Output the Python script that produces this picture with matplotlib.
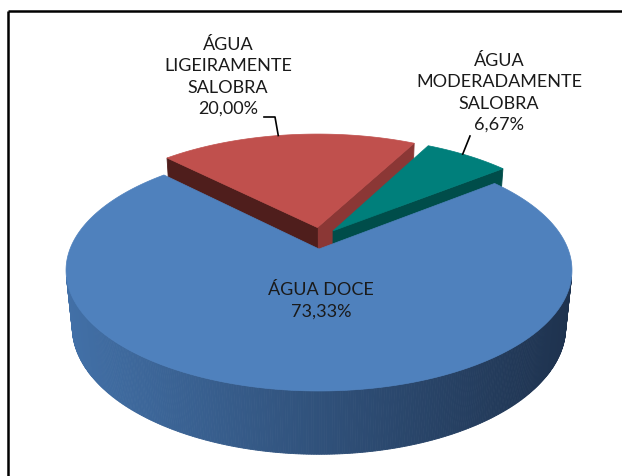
import numpy as np
import matplotlib
matplotlib.use('Agg')
import matplotlib.pyplot as plt
from matplotlib.patches import Polygon

# ---- data ----
categories = ['ÁGUA DOCE', 'ÁGUA\nLIGEIRAMENTE\nSALOBRA', 'ÁGUA\nMODERADAMENTE\nSALOBRA']
values = [73.33, 20.00, 6.67]
pct_labels = ['73,33%', '20,00%', '6,67%']

# ---- style ----
top_colors = ['#4F81BD', '#C0504D', '#007F7B']
dark_side = ['#1E324E', '#4F1E1C', '#004D4A']
mid_side = ['#4270A7', '#8B3735', '#004D4A']
explode = [0.0, 0.19, 0.17]
explode_dir = [0.0, 92.0, 70.0]
start_angle = 38.5  # degrees, slices go clockwise

FONT = ['Lato', 'DejaVu Sans']

fig = plt.figure(figsize=(6.22, 4.77), dpi=100)
ax = fig.add_axes([0, 0, 1, 1])
ax.set_xlim(0, 622)
ax.set_ylim(477, 0)
ax.axis('off')

# ---- perspective projection of a unit-radius pie ----
phi = np.radians(28)
D = 5.0
k = 1245.0
cx, cy = 319.0, 250.0
h = 0.26
cphi, sphi = np.cos(phi), np.sin(phi)
cam = np.array([0.0, -D * cphi, D * sphi])


def proj(x, y, z):
    vx, vy, vz = x, y + D * cphi, z - D * sphi
    depth = vy * cphi - vz * sphi
    sx = vx / depth
    sy = (vy * sphi + vz * cphi) / depth
    return cx + k * sx, cy - k * sy, depth


total = float(sum(values))
walls = []
tops = []
offsets = []
t0 = start_angle
for i, v in enumerate(values):
    t1 = t0 - 360.0 * v / total
    ed = np.radians(explode_dir[i])
    ox, oy = explode[i] * np.cos(ed), explode[i] * np.sin(ed)
    offsets.append((ox, oy))
    th = np.radians(np.linspace(t1, t0, max(int(abs(t0 - t1) * 2), 8)))
    # top face
    pts = [proj(ox, oy, 0)[:2]] + [proj(ox + np.cos(a), oy + np.sin(a), 0)[:2] for a in th]
    tops.append((pts, top_colors[i]))
    # outer curved wall
    for a, b in zip(th[:-1], th[1:]):
        m = (a + b) / 2
        P = np.array([ox + np.cos(m), oy + np.sin(m), -h / 2])
        n = np.array([np.cos(m), np.sin(m), 0])
        if np.dot(n, cam - P) <= 0:
            continue
        q = [proj(ox + np.cos(a), oy + np.sin(a), 0), proj(ox + np.cos(b), oy + np.sin(b), 0),
             proj(ox + np.cos(b), oy + np.sin(b), -h), proj(ox + np.cos(a), oy + np.sin(a), -h)]
        X = np.mean([p[0] for p in q])
        if i == 0:
            f = np.clip((X - 70) / (570 - 70), 0, 1)
            c0 = np.array(matplotlib.colors.to_rgb(mid_side[0]))
            c1 = np.array(matplotlib.colors.to_rgb(dark_side[0]))
            col = tuple(c0 * (1 - f) + c1 * f)
        else:
            col = dark_side[i]
        walls.append((np.mean([p[2] for p in q]), [p[:2] for p in q], col))
    # radial walls
    for ang, sgn in ((t0, 1), (t1, -1)):
        r = np.radians(ang)
        n = np.array([np.cos(r + sgn * np.pi / 2), np.sin(r + sgn * np.pi / 2), 0])
        P = np.array([ox + 0.5 * np.cos(r), oy + 0.5 * np.sin(r), -h / 2])
        if np.dot(n, cam - P) <= 0:
            continue
        q = [proj(ox, oy, 0), proj(ox + np.cos(r), oy + np.sin(r), 0),
             proj(ox + np.cos(r), oy + np.sin(r), -h), proj(ox, oy, -h)]
        col = dark_side[i] if n[0] < 0 else mid_side[i]
        if i == 2:
            col = dark_side[i]
        walls.append((np.mean([p[2] for p in q]), [p[:2] for p in q], col))
    t0 = t1

walls.sort(key=lambda w: -w[0])
for _, q, col in walls:
    ax.add_patch(Polygon(q, closed=True, facecolor=col, edgecolor=col, lw=0.6))
for pts, col in tops:
    ax.add_patch(Polygon(pts, closed=True, facecolor=col, edgecolor=col, lw=0.5))

# ---- labels ----
fs = 13
ls = 1.4
tc = '#1a1a1a'
ax.text(321, 301, categories[0] + '\n' + pct_labels[0], ha='center', va='center',
        fontsize=fs, family=FONT, color=tc, linespacing=ls)
ax.text(228, 77, categories[1] + '\n' + pct_labels[1], ha='center', va='center',
        fontsize=fs, family=FONT, color=tc, linespacing=ls)
ax.text(499, 93, categories[2] + '\n' + pct_labels[2], ha='center', va='center',
        fontsize=fs, family=FONT, color=tc, linespacing=ls)

# leader lines to slice edges
ox, oy = offsets[1]
ex, ey, _ = proj(ox + np.cos(np.radians(101)), oy + np.sin(np.radians(101)), 0)
ax.plot([264, 275, ex], [118, 118, ey], color='black', lw=1.2)
ox, oy = offsets[2]
ex, ey, _ = proj(ox + np.cos(np.radians(52)), oy + np.sin(np.radians(52)), 0)
ax.plot([470, ex], [137, ey], color='black', lw=1.2)

# ---- frame ----
ax.plot([8, 622], [12, 12], color='black', lw=1.8, solid_capstyle='butt')
ax.plot([8, 8], [12, 477], color='black', lw=1.8, solid_capstyle='butt')

fig.savefig('out.png', dpi=100)
